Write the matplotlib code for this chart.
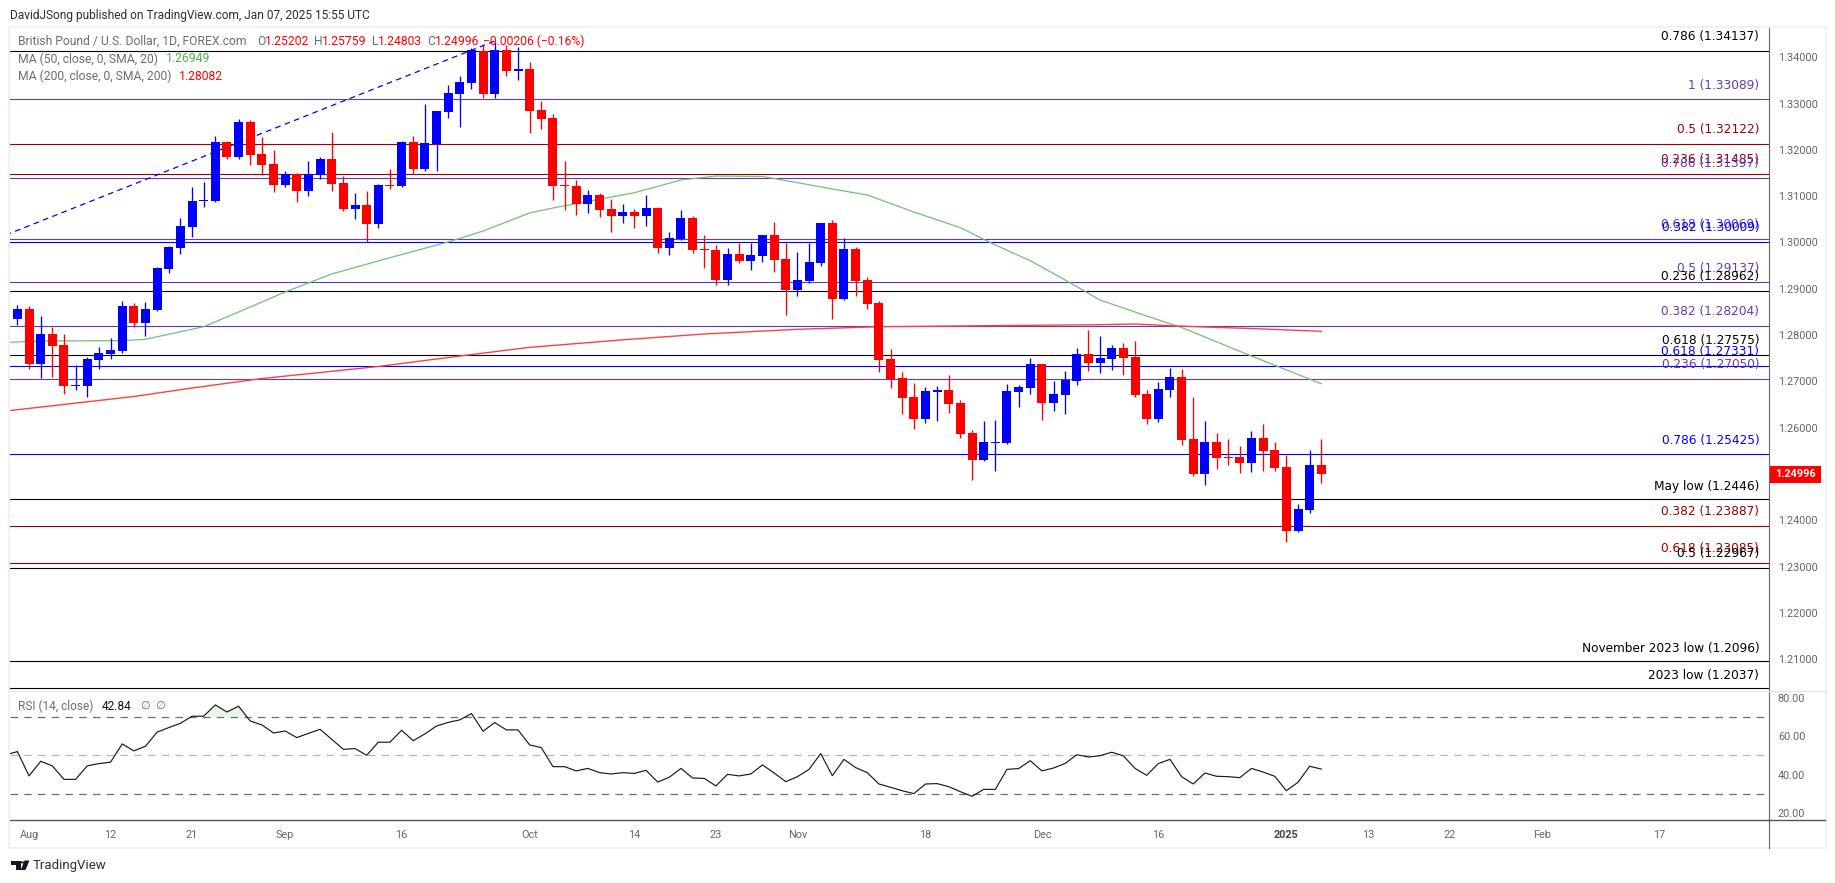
import numpy as np
import matplotlib
matplotlib.use("Agg")
import matplotlib.pyplot as plt
from matplotlib.patches import Polygon, Rectangle

W, H = 1835, 883

# daily GBP/USD candles, 2024-07-31 .. 2025-01-07
opens = [1.28348, 1.28564, 1.27376, 1.28024, 1.27786, 1.26900, 1.26900, 1.27462, 1.27592, 1.27656,
         1.28628, 1.28261, 1.28542, 1.29428, 1.29881, 1.30335, 1.30896, 1.30896, 1.32171, 1.31847,
         1.32603, 1.31912, 1.31696, 1.31242, 1.31480, 1.31112, 1.31458, 1.31804, 1.31285, 1.30724,
         1.30810, 1.30400, 1.31242, 1.31220, 1.32171, 1.31588, 1.32128, 1.32819, 1.33208, 1.33445,
         1.34136, 1.33208, 1.34158, 1.33704, 1.33748, 1.32862, 1.32689, 1.31242, 1.31220, 1.30832,
         1.31026, 1.30724, 1.30572, 1.30659, 1.30572, 1.30745, 1.29881, 1.30076, 1.30529, 1.29860,
         1.29838, 1.29190, 1.29752, 1.29600, 1.29708, 1.30162, 1.29644, 1.28974, 1.29168, 1.29557,
         1.30421, 1.28780, 1.29860, 1.29190, 1.28693, 1.27484, 1.27073, 1.26663, 1.26188, 1.26771,
         1.26814, 1.26533, 1.25885, 1.25302, 1.25669, 1.25669, 1.26771, 1.26857, 1.27376, 1.26533,
         1.26706, 1.27008, 1.27592, 1.27397, 1.27484, 1.27721, 1.27527, 1.26728, 1.26188, 1.26814,
         1.27095, 1.25756, 1.25000, 1.25691, 1.25367, 1.25367, 1.25237, 1.25777, 1.25518, 1.25151,
         1.23768, 1.24222, 1.25202]
highs = [1.28650, 1.28628, 1.28412, 1.28175, 1.28024, 1.27354, 1.27527, 1.27743, 1.27937, 1.28736,
         1.28693, 1.28715, 1.29471, 1.29924, 1.30529, 1.31199, 1.31307, 1.32300, 1.32192, 1.32668,
         1.32646, 1.32279, 1.31998, 1.31544, 1.31501, 1.31760, 1.31847, 1.32387, 1.31436, 1.31069,
         1.31112, 1.31264, 1.31588, 1.32192, 1.32300, 1.32992, 1.32840, 1.33402, 1.33596, 1.34201,
         1.34288, 1.34331, 1.34266, 1.34223, 1.33899, 1.33056, 1.32776, 1.31760, 1.31350, 1.31134,
         1.31069, 1.30940, 1.30832, 1.30724, 1.31026, 1.30767, 1.30227, 1.30702, 1.30572, 1.30162,
         1.29946, 1.29881, 1.29989, 1.29989, 1.30162, 1.30443, 1.29989, 1.29795, 1.29989, 1.30421,
         1.30486, 1.30097, 1.29903, 1.29255, 1.28736, 1.27700, 1.27203, 1.26965, 1.26879, 1.26900,
         1.27138, 1.26598, 1.25950, 1.26144, 1.26166, 1.26944, 1.26922, 1.27505, 1.27376, 1.27008,
         1.27224, 1.27721, 1.28110, 1.27980, 1.27786, 1.27829, 1.27872, 1.26814, 1.26987, 1.27289,
         1.27268, 1.26663, 1.26144, 1.25885, 1.25756, 1.25604, 1.25928, 1.26080, 1.25691, 1.25410,
         1.24352, 1.25518, 1.25759]
lows = [1.28218, 1.27268, 1.27073, 1.27095, 1.26728, 1.26814, 1.26663, 1.27268, 1.27484, 1.27613,
        1.28175, 1.27980, 1.28520, 1.29341, 1.29752, 1.30119, 1.30767, 1.30875, 1.31804, 1.31804,
        1.31674, 1.31458, 1.31091, 1.31199, 1.30875, 1.31004, 1.31372, 1.31112, 1.30680, 1.30508,
        1.30011, 1.30313, 1.31156, 1.31199, 1.31480, 1.31544, 1.31544, 1.32689, 1.32495, 1.33316,
        1.33121, 1.33121, 1.33596, 1.33510, 1.32365, 1.32452, 1.30918, 1.30702, 1.30594, 1.30637,
        1.30551, 1.30227, 1.30421, 1.30313, 1.30356, 1.29773, 1.29730, 1.30054, 1.29773, 1.29449,
        1.29082, 1.29082, 1.29557, 1.29406, 1.29579, 1.29363, 1.28434, 1.28844, 1.29125, 1.29492,
        1.28348, 1.28758, 1.28844, 1.28564, 1.27203, 1.26857, 1.26296, 1.25972, 1.26101, 1.26144,
        1.26317, 1.25777, 1.24870, 1.25280, 1.25064, 1.25648, 1.26447, 1.26728, 1.26166, 1.26360,
        1.26296, 1.26922, 1.27224, 1.27181, 1.27246, 1.27138, 1.26663, 1.26080, 1.26123, 1.26663,
        1.25626, 1.24956, 1.24762, 1.25108, 1.25194, 1.25021, 1.25043, 1.25064, 1.25064, 1.23531,
        1.23747, 1.24157, 1.24803]
closes = [1.28564, 1.27376, 1.28024, 1.27764, 1.26900, 1.26922, 1.27484, 1.27613, 1.27678, 1.28628,
          1.28261, 1.28564, 1.29449, 1.29903, 1.30356, 1.30896, 1.30918, 1.32171, 1.31847, 1.32603,
          1.31890, 1.31674, 1.31242, 1.31480, 1.31112, 1.31480, 1.31804, 1.31264, 1.30724, 1.30810,
          1.30400, 1.31242, 1.31220, 1.32171, 1.31588, 1.32149, 1.32840, 1.33229, 1.33467, 1.34158,
          1.33208, 1.34158, 1.33704, 1.33748, 1.32840, 1.32668, 1.31220, 1.31220, 1.30832, 1.31026,
          1.30702, 1.30572, 1.30659, 1.30572, 1.30745, 1.29881, 1.30097, 1.30529, 1.29838, 1.29838,
          1.29190, 1.29752, 1.29600, 1.29730, 1.30162, 1.29622, 1.28974, 1.29190, 1.29579, 1.30421,
          1.28780, 1.29860, 1.29168, 1.28672, 1.27462, 1.27052, 1.26641, 1.26188, 1.26792, 1.26814,
          1.26512, 1.25864, 1.25302, 1.25691, 1.25691, 1.26792, 1.26879, 1.27376, 1.26533, 1.26728,
          1.27030, 1.27592, 1.27397, 1.27505, 1.27721, 1.27505, 1.26706, 1.26188, 1.26836, 1.27095,
          1.25734, 1.25000, 1.25691, 1.25345, 1.25345, 1.25237, 1.25777, 1.25496, 1.25129, 1.23768,
          1.24244, 1.25194, 1.24996]

ma50_idx = [-1, 2, 9, 11, 16, 19, 23, 27, 32, 37, 40, 44, 46, 53, 57, 60, 64, 67, 70, 73, 77, 81, 84,
            87, 90, 93, 97, 100, 106, 112]
ma50 = [1.27840, 1.27872, 1.27880, 1.27909, 1.28181, 1.28499, 1.28931, 1.29320, 1.29672, 1.30011,
        1.30248, 1.30637, 1.30745, 1.31076, 1.31350, 1.31436, 1.31426, 1.31292, 1.31156, 1.31026,
        1.30659, 1.30320, 1.29946, 1.29607, 1.29190, 1.28758, 1.28412, 1.28164, 1.27548, 1.26949]
ma200_idx = [-1, 10, 15, 21, 31, 38, 44, 52, 59, 67, 74, 85, 93, 96, 99, 102, 106, 112]
ma200 = [1.26360, 1.26674, 1.26857, 1.27062, 1.27322, 1.27548, 1.27736, 1.27898, 1.28024, 1.28125,
         1.28181, 1.28207, 1.28225, 1.28240, 1.28203, 1.28175, 1.28142, 1.28082]

rsi = [51.9, 39.3, 46.9, 44.5, 37.5, 37.5, 44.5, 45.7, 46.4, 55.9, 52.3, 54.7, 62.0, 64.4, 66.6, 70.3,
       70.3, 76.2, 72.5, 75.5, 67.8, 65.8, 61.6, 62.6, 59.2, 61.4, 63.5, 58.3, 53.1, 53.5, 50.0, 56.8,
       56.8, 63.0, 57.6, 61.1, 65.2, 67.1, 68.4, 71.7, 62.5, 67.0, 63.2, 63.2, 55.4, 54.0, 44.1, 44.1,
       41.9, 43.2, 41.0, 40.3, 41.0, 40.6, 42.2, 36.1, 38.6, 43.2, 38.2, 38.0, 34.1, 40.1, 39.3, 40.3,
       45.0, 40.8, 36.3, 38.9, 42.7, 50.9, 39.4, 47.9, 43.6, 41.0, 35.1, 33.4, 31.6, 30.1, 35.1, 35.3,
       33.7, 31.1, 28.7, 32.3, 32.3, 42.7, 43.1, 47.2, 41.9, 43.4, 45.8, 50.3, 49.1, 49.8, 51.6, 49.7,
       43.2, 39.6, 45.7, 47.9, 38.9, 35.1, 40.8, 39.1, 38.9, 38.4, 43.2, 41.3, 39.1, 31.6, 36.0, 44.3,
       42.84]

# horizontal levels: price, colour key, label
level_prices = [1.34137, 1.33089, 1.32122, 1.31485, 1.31397, 1.30069, 1.30009, 1.29137, 1.28962, 1.28204,
                1.27575, 1.27331, 1.27050, 1.25425, 1.2446, 1.23887, 1.23085, 1.22967, 1.2096, 1.2037]
level_kinds = ["k", "p", "r", "r", "p", "p", "b", "p", "k", "p",
               "k", "b", "p", "b", "k", "r", "r", "k", "k", "k"]
level_labels = ["0.786 (1.34137)", "1 (1.33089)", "0.5 (1.32122)", "0.236 (1.31485)", "0.786 (1.31397)",
                "0.618 (1.30069)", "0.382 (1.30009)", "0.5 (1.29137)", "0.236 (1.28962)", "0.382 (1.28204)",
                "0.618 (1.27575)", "0.618 (1.27331)", "0.236 (1.27050)", "0.786 (1.25425)", "May low (1.2446)",
                "0.382 (1.23887)", "0.618 (1.23085)", "0.5 (1.22967)", "November 2023 low (1.2096)",
                "2023 low (1.2037)"]
kind_colors = {"k": "#000000", "p": "#673ab7", "r": "#990000", "b": "#0000ff"}

price_ticks = [1.34, 1.33, 1.32, 1.31, 1.30, 1.29, 1.28, 1.27, 1.26, 1.24, 1.23, 1.22, 1.21]
rsi_ticks = [80, 60, 40, 20]
date_idx = [1, 8, 15, 23, 33, 44, 53, 60, 67, 78, 88, 98, 109, 116, 123, 131, 141]
date_labels = ["Aug", "12", "21", "Sep", "16", "Oct", "14", "23", "Nov", "18", "Dec", "16", "2025",
               "13", "22", "Feb", "17"]

trend_idx = [-1, 41]
trend_price = [1.30162, 1.34352]

BLUE, RED = "#0000ff", "#ff0000"
GREY = "#6a6d78"
PANEL_LEFT, PANEL_RIGHT = 10, 1769
STEP, X0 = 11.642, 17.4


def fx(px):
    return px / W


def fy(py):
    return 1 - py / H


def add_panel(top, bottom):
    ax = fig.add_axes([fx(PANEL_LEFT), fy(bottom), fx(PANEL_RIGHT - PANEL_LEFT), (bottom - top) / H])
    ax.set_xlim((PANEL_LEFT - X0) / STEP, (PANEL_RIGHT - X0) / STEP)
    for s in ["top", "left", "bottom"]:
        ax.spines[s].set_visible(False)
    ax.spines["right"].set_color("#666666")
    ax.spines["right"].set_linewidth(0.8)
    ax.yaxis.tick_right()
    ax.tick_params(axis="y", length=0, pad=6.3, labelsize=7.8, labelcolor="#666666")
    ax.patch.set_alpha(0)
    return ax


plt.rcParams["font.family"] = ["Roboto", "DejaVu Sans"]
fig = plt.figure(figsize=(W / 100, H / 100), dpi=100, facecolor="white")

# chart frame
fig.add_artist(Rectangle((fx(9), fy(848)), fx(1817), 821 / H, fill=False, ec="#f0f1f6", lw=1.5,
                         transform=fig.transFigure))

ax = add_panel(28, 690)
ax.set_ylim(1.34 - 632.7 / 4630, 1.34 + 29.3 / 4630)
ax.set_xticks([])
ax.set_yticks(price_ticks)
ax.set_yticklabels(["%.5f" % p for p in price_ticks])

for price, kind, label in zip(level_prices, level_kinds, level_labels):
    ax.axhline(price, color=kind_colors[kind], lw=0.8, zorder=1)
    off = 9.0 if "low" in label else 10.3
    ax.annotate(label, xy=(1, price), xycoords=ax.get_yaxis_transform(), xytext=(-7, off),
                textcoords="offset points", ha="right", va="center", color=kind_colors[kind],
                fontsize=8.7, family="DejaVu Sans", zorder=6)

ax.plot(trend_idx, trend_price, color=BLUE, lw=0.9, ls=(0, (4.5, 3.5)), zorder=1)
ax.plot(ma50_idx, ma50, color="#72c076", lw=0.9, zorder=2)
ax.plot(ma200_idx, ma200, color="#ff4040", lw=1.0, zorder=2)

idx = np.arange(len(opens))
o = np.array(opens)
c = np.array(closes)
candle_colors = [BLUE if cl >= op else RED for op, cl in zip(opens, closes)]
ax.vlines(idx, lows, highs, colors=candle_colors, lw=0.95, zorder=3, snap=True)
ax.bar(idx, np.abs(c - o), bottom=np.minimum(o, c), width=0.773, color=candle_colors, lw=0, zorder=4)

# last price tag on the axis
fig.add_artist(Rectangle((fx(1770), fy(482.5)), fx(51), 16.5 / H, fc=RED, ec="none",
                         transform=fig.transFigure, zorder=8))
fig.text(fx(1795.5), fy(474.3), "1.24996", color="white", fontsize=7.8, fontweight="bold",
         ha="center", va="center", zorder=9)

ax2 = add_panel(691, 820)
ax2.set_ylim(50 - 64.7 / 1.925, 50 + 64.3 / 1.925)
ax2.set_yticks(rsi_ticks)
ax2.set_yticklabels(["%.2f" % v for v in rsi_ticks])
ax2.set_xticks(date_idx)
ax2.set_xticklabels(date_labels)
ax2.tick_params(axis="x", length=0, pad=7.5, labelsize=7.8, labelcolor="#666666")
ax2.get_xticklabels()[12].set_color("#444444")
ax2.get_xticklabels()[12].set_fontweight("bold")
ax2.spines["bottom"].set_visible(True)
ax2.spines["bottom"].set_color("#555555")
ax2.spines["bottom"].set_linewidth(1.0)

end_dash = (1764 - X0) / STEP
ax2.hlines([70, 30], ax2.get_xlim()[0], end_dash, color="#6e6e6e", lw=0.9, ls=(0, (6, 5)))
ax2.hlines(50, ax2.get_xlim()[0], end_dash, color="#b5b5b5", lw=0.9, ls=(0, (6, 5)))
ax2.plot(idx, rsi, color="#1a1a1a", lw=0.85, zorder=3)
ax2.plot([-1, 0], [50.3, rsi[0]], color="#1a1a1a", lw=0.85, zorder=3)
ax2.fill_between(idx, 70, rsi, where=np.array(rsi) > 70, interpolate=True, color="#4caf50", alpha=0.12, lw=0)

# axis continues below the pane, separator between panes
fig.add_artist(plt.Line2D([fx(PANEL_RIGHT), fx(PANEL_RIGHT)], [fy(820), fy(848)], color="#666666", lw=0.8))
fig.add_artist(plt.Line2D([fx(1769), fx(1825)], [fy(820), fy(820)], color="#555555", lw=1.0))
fig.add_artist(plt.Line2D([fx(10), fx(1825)], [fy(690.5), fy(690.5)], color="#e2e4ec", lw=0.9))

# header and legends
fig.text(fx(10), fy(15), "DavidJSong published on TradingView.com, Jan 07, 2025 15:55 UTC",
         color="#2a2e39", fontsize=8.6, va="center")

row1 = fy(41.7)
fig.text(fx(18), row1, "British Pound / U.S. Dollar, 1D, FOREX.com", color=GREY, fontsize=8.7, va="center")
for px, s, col in [(257, "O", GREY), (265, "1.25202", RED), (314, "H", GREY), (322, "1.25759", RED),
                   (371.5, "L", GREY), (378, "1.24803", RED), (427, "C", GREY), (434.5, "1.24996", RED),
                   (483, "\u22120.00206 (\u22120.16%)", RED)]:
    fig.text(fx(px), row1, s, color=col, fontsize=8.7, va="center", zorder=7)

fig.text(fx(18), fy(59), "MA (50, close, 0, SMA, 20)", color=GREY, fontsize=8.7, va="center")
fig.text(fx(166), fy(59), "1.26949", color="#4caf50", fontsize=8.7, va="center")
fig.text(fx(18), fy(76), "MA (200, close, 0, SMA, 200)", color=GREY, fontsize=8.7, va="center")
fig.text(fx(178.7), fy(76), "1.28082", color=RED, fontsize=8.7, va="center")

fig.text(fx(18.3), fy(706), "RSI (14, close)", color=GREY, fontsize=8.6, va="center")
fig.text(fx(102), fy(706), "42.84", color="#111111", fontsize=8.6, va="center")
fig.text(fx(140), fy(706), "\u2205", color=GREY, fontsize=8.0, va="center", family="DejaVu Sans")
fig.text(fx(155), fy(706), "\u2205", color=GREY, fontsize=8.0, va="center", family="DejaVu Sans")

# TradingView mark
LOGO = "#131722"
logo_parts = [[(10.5, 860.5), (20.5, 860.5), (20.5, 870), (16, 870), (16, 864.5), (10.5, 864.5)],
              [(24.5, 860.5), (29.5, 860.5), (25.5, 870), (20.8, 870)]]
for pts in logo_parts:
    fig.add_artist(Polygon([(fx(a), fy(b)) for a, b in pts], closed=True, fc=LOGO, ec="none",
                           transform=fig.transFigure))
fig.add_artist(plt.Circle((fx(22.5), fy(862.4)), 2.0 / W, fc=LOGO, ec="none", transform=fig.transFigure))
fig.text(fx(33), fy(865), "TradingView", color="#2a2e39", fontsize=9.5, va="center")

fig.savefig("out.png", dpi=100)
